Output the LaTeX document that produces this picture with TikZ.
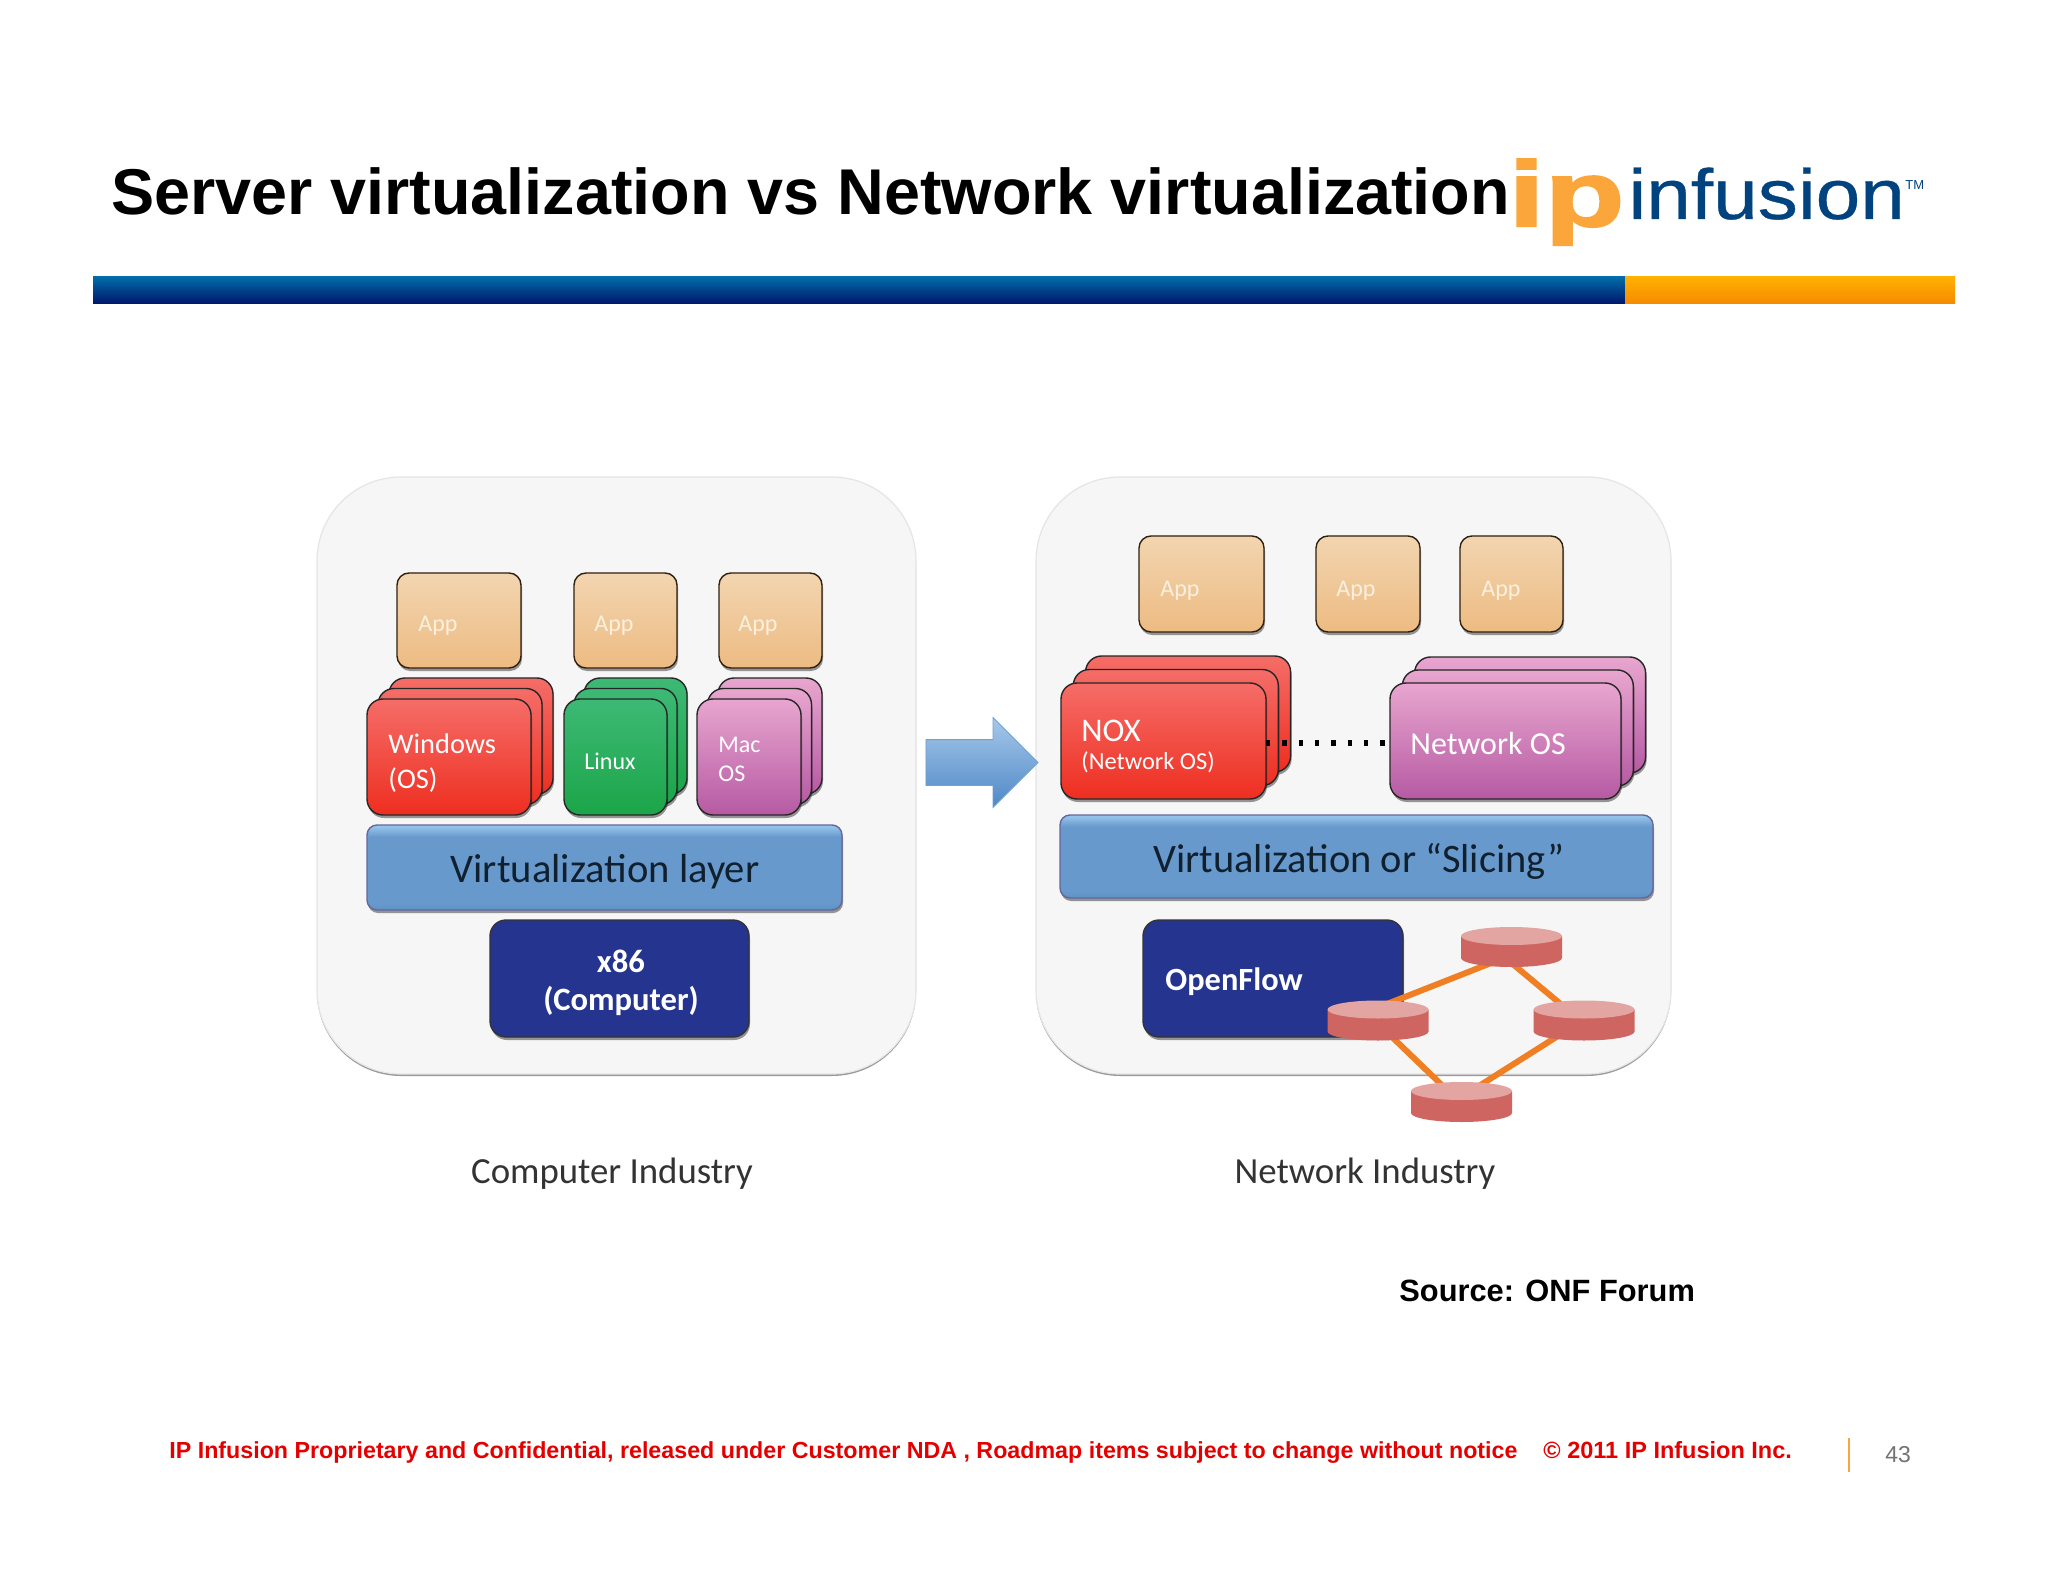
\documentclass[tikz,border=0pt]{standalone}
\usepackage{fontspec}
\setmainfont{Liberation Sans}
\newfontfamily\cbf{Carlito}
\newfontfamily\ipfont[FakeBold=2.5,FakeStretch=1.42]{Liberation Sans Bold}
\newfontfamily\inffont[FakeBold=0.5,FakeStretch=1.13]{Liberation Sans}
\usetikzlibrary{shadows,shapes.arrows,calc}
\pgfdeclarelayer{fg}
\pgfsetlayers{main,fg}
\definecolor{navybar}{HTML}{00156B}
\definecolor{edgeor}{HTML}{F07F24}
\definecolor{cCylB}{HTML}{CF6560}
\definecolor{cCylE}{HTML}{E3A5A2}
\definecolor{panelgray}{HTML}{F6F6F7}
\definecolor{navyfill}{HTML}{25358F}
\definecolor{cAppT}{HTML}{F2D5B0}
\definecolor{cAppB}{HTML}{EDBB82}
\definecolor{cRedT}{HTML}{F56D68}
\definecolor{cRedB}{HTML}{EE2E20}
\definecolor{cGrnT}{HTML}{3DB975}
\definecolor{cGrnB}{HTML}{1BA548}
\definecolor{cPurT}{HTML}{E8A6CF}
\definecolor{cPurB}{HTML}{B65AA3}
\definecolor{cBluT}{HTML}{93C3EA}
\definecolor{cBluB}{HTML}{5F93C6}
\definecolor{cBluM}{HTML}{6899CC}
\definecolor{logoor}{HTML}{FBA63A}
\definecolor{logobl}{HTML}{00437F}
\definecolor{barT}{HTML}{006CA8}
\definecolor{orT}{HTML}{FFB000}
\definecolor{orB}{HTML}{F58A00}
\definecolor{arrT}{HTML}{A6C8EA}
\definecolor{arrB}{HTML}{4F88C6}
\definecolor{appt}{HTML}{FBF0DF}
\definecolor{inkb}{HTML}{10202F}
\pgfdeclareverticalshading{bluesh}{100bp}{color(0bp)=(cBluB); color(26bp)=(cBluB); color(29bp)=(cBluM); color(68bp)=(cBluM); color(74bp)=(cBluT); color(100bp)=(cBluT)}
\tikzset{
  x=0.5pt,y=-0.5pt,
  panel/.style={rectangle,rounded corners=42pt,fill=panelgray,draw=black!10,line width=0.6pt,
    drop shadow={shadow xshift=0pt,shadow yshift=-1pt,opacity=.4,fill=black}},
  box/.style={rectangle,rounded corners=6pt,inner sep=0pt,outer sep=0pt,line width=0.7pt,
    drop shadow={shadow xshift=0.5pt,shadow yshift=-1.5pt,opacity=.4,fill=black}},
  osbox/.style={box,rounded corners=8pt,draw=black!85},
  appbox/.style={box,draw=black!75!brown,top color=cAppT,bottom color=cAppB},
  redbox/.style={osbox,top color=cRedT,bottom color=cRedB},
  greenbox/.style={osbox,top color=cGrnT,bottom color=cGrnB},
  purplebox/.style={osbox,top color=cPurT,bottom color=cPurB},
  bluebox/.style={box,rounded corners=5pt,draw=black!65!blue!60,shading=bluesh},
  navybox/.style={box,rounded corners=8pt,draw=black!80,fill=navyfill},
  lbl/.style={inner sep=0pt,anchor=west,align=left,text=white,font=\cbf},
  swbase/.style={rectangle,inner sep=0pt,outer sep=0pt,minimum width=50.5pt,minimum height=20pt},
  link/.style={draw=edgeor,line width=3pt},
}
\newcommand{\bx}[7]{%
  \pgfmathsetmacro\bxcx{(#3+#5)/2}\pgfmathsetmacro\bxcy{(#4+#6)/2}%
  \node[#2,minimum width={(#5-#3)*0.5pt},minimum height={(#6-#4)*0.5pt}] (#1) at (\bxcx,\bxcy) {#7};}
\newcommand{\stk}[8]{% name style x1 y1 x2 y2 dx dy
  \pgfmathsetmacro\sxa{#3+2*#7}\pgfmathsetmacro\sxb{#5+2*#7}\pgfmathsetmacro\sya{#4-2*#8}\pgfmathsetmacro\syb{#6-2*#8}%
  \bx{#1b}{#2}{\sxa}{\sya}{\sxb}{\syb}{}%
  \pgfmathsetmacro\sxa{#3+#7}\pgfmathsetmacro\sxb{#5+#7}\pgfmathsetmacro\sya{#4-#8}\pgfmathsetmacro\syb{#6-#8}%
  \bx{#1m}{#2}{\sxa}{\sya}{\sxb}{\syb}{}%
  \bx{#1}{#2}{#3}{#4}{#5}{#6}{}}
\newcommand{\sw}[3]{%
  \node[swbase] (#1) at (#2,#3) {};
  \fill[cCylB] ([shift={(-50.5,-11)}]#1.center) -- ([shift={(-50.5,11)}]#1.center)
     arc[start angle=180,end angle=360,x radius=25.25pt,y radius=4.5pt]
     -- ([shift={(50.5,-11)}]#1.center) -- cycle;
  \fill[cCylE] ([shift={(0,-11)}]#1.center) ellipse[x radius=25.25pt,y radius=4.5pt];}
\begin{document}
\begin{tikzpicture}
\useasboundingbox (0,0) rectangle (2048,1582);
\fill[white] (0,0) rectangle (2048,1582);
% title
\node[anchor=base west,inner sep=0pt,font=\fontsize{32.35}{36}\selectfont\bfseries] (title) at (111,215) {Server virtualization vs Network virtualization};
% logo
\node[anchor=base west,inner sep=0pt,text=logoor,font=\fontsize{46}{50}\selectfont\ipfont] (logoip) at (1508,226) {ip};
\node[anchor=base west,inner sep=0pt,text=logobl,font=\fontsize{35.5}{40}\selectfont\inffont] (logoinf) at (1628,219) {infusion};
\node[anchor=base west,inner sep=0pt,text=logobl,font=\fontsize{6.5}{8}\selectfont] (logotm) at (1905,190) {TM};
% bar
\bx{barb}{rectangle,inner sep=0pt,top color=barT,bottom color=navybar}{93}{277}{1625}{304}{}
\bx{baro}{rectangle,inner sep=0pt,top color=orT,bottom color=orB}{1625}{277}{1955}{304}{}
% panels
\bx{pl}{panel}{317}{477}{916}{1074}{}
\bx{pr}{panel}{1036}{477}{1671}{1074}{}
% left apps
\bx{la1}{appbox}{397}{573}{521}{668}{}
\bx{la2}{appbox}{574}{573}{677}{668}{}
\bx{la3}{appbox}{719}{573}{822}{668}{}
\node[lbl,text=appt,font=\cbf\fontsize{12}{14}\selectfont] (tla1) at (418,625.5) {App};
\node[lbl,text=appt,font=\cbf\fontsize{12}{14}\selectfont] (tla2) at (594,625.5) {App};
\node[lbl,text=appt,font=\cbf\fontsize{12}{14}\selectfont] (tla3) at (738,625.5) {App};
% left OS stacks
\stk{win}{redbox}{367}{699}{531}{815}{11}{10.5}
\stk{lin}{greenbox}{564}{699}{667}{815}{10}{10.5}
\stk{mac}{purplebox}{697}{699}{801}{815}{10.5}{10.5}
\node[lbl,font=\cbf\fontsize{14.2}{17.5}\selectfont] (twin) at (388,763.5) {Windows\\(OS)};
\node[lbl,font=\cbf\fontsize{12}{14}\selectfont] (tlin) at (584,761) {Linux};
\node[lbl,font=\cbf\fontsize{12}{14.5}\selectfont] (tmac) at (718,759) {Mac\\OS};
% left layers
\bx{vl}{bluebox}{367}{825}{842}{910}{}
\node[inner sep=0pt,text=inkb,font=\cbf\fontsize{20.3}{22}\selectfont] (tvl) at (605,871.5) {Virtualization layer};
\bx{x86}{navybox}{490}{920}{749}{1037}{}
\node[inner sep=0pt,text=white,align=center,font=\cbf\bfseries\fontsize{16.3}{19}\selectfont] (tx86) at (621,982.5) {x86\\(Computer)};
% right apps
\bx{ra1}{appbox}{1139}{536}{1264}{632}{}
\bx{ra2}{appbox}{1316}{536}{1420}{632}{}
\bx{ra3}{appbox}{1460}{536}{1563}{632}{}
\node[lbl,text=appt,font=\cbf\fontsize{12}{14}\selectfont] (tra1) at (1160,590.5) {App};
\node[lbl,text=appt,font=\cbf\fontsize{12}{14}\selectfont] (tra2) at (1336,590.5) {App};
\node[lbl,text=appt,font=\cbf\fontsize{12}{14}\selectfont] (tra3) at (1481,590.5) {App};
% right OS stacks
\stk{nox}{redbox}{1061}{683}{1266}{799}{12.3}{13.5}
\stk{nos}{purplebox}{1390}{683}{1621}{799}{12.3}{13}
\draw[black,line width=2.6pt,dash pattern=on 2.2pt off 5.95pt] ([shift={(0,2)}]nox.east) -- ([shift={(0,2)}]nos.west);
\node[lbl,font=\cbf\fontsize{16.5}{18}\selectfont] (tnox) at (1081,731) {NOX};
\node[lbl,font=\cbf\fontsize{12.2}{14}\selectfont] (tnoxb) at (1081,762) {(Network OS)};
\node[lbl,font=\cbf\fontsize{16}{18}\selectfont] (tnos) at (1410,744) {Network OS};
% right layers
\bx{vr}{bluebox}{1060}{815}{1653}{898}{}
\node[inner sep=0pt,text=inkb,font=\cbf\fontsize{20.2}{22}\selectfont] (tvr) at (1359,861.5) {Virtualization or “Slicing”};
\bx{of}{navybox}{1143}{920}{1403}{1037}{}
\node[lbl,font=\cbf\bfseries\fontsize{16.2}{18}\selectfont] (tof) at (1165,982) {OpenFlow};
% switches
\begin{pgfonlayer}{fg}
\sw{st}{1511.5}{947}
\sw{sl}{1378}{1020.5}
\sw{sr}{1584}{1020.5}
\sw{sb}{1461.5}{1102}
\end{pgfonlayer}
\draw[link] ([shift={(0,-13)}]sl.center) -- ([shift={(0,8)}]st.center);
\draw[link] ([shift={(0,16)}]st.center) -- ([shift={(0,3)}]sr.center);
\draw[link] ([shift={(0,-1)}]sr.center) -- ([shift={(0,-5)}]sb.center);
\draw[link] ([shift={(0,3)}]sl.center) -- ([shift={(0,2)}]sb.center);
% big arrow
\node[single arrow,minimum height=56pt,single arrow head extend=11pt,inner xsep=0pt,inner ysep=11.25pt,
  top color=arrT,bottom color=arrB,draw=arrB!80,line width=0.4pt] (arr) at (970.5,762.5) {};
% captions
\node[inner sep=0pt,text=black!80,font=\cbf\fontsize{18.4}{20}\selectfont] (cc) at (612,1174) {Computer Industry};
\node[inner sep=0pt,text=black!80,font=\cbf\fontsize{18.4}{20}\selectfont] (cn) at (1365,1174) {Network Industry};
\node[anchor=base west,inner sep=0pt,font=\fontsize{15.4}{18}\selectfont\bfseries] (src) at (1399,1301) {Source: ONF Forum};
% footer
\node[anchor=base west,inner sep=0pt,text=red!90!black,font=\fontsize{11.62}{14}\selectfont\bfseries] (f1) at (169,1458.5) {IP Infusion Proprietary and Confidential, released under Customer NDA , Roadmap items subject to change without notice};
\node[anchor=base west,inner sep=0pt,text=red!90!black,font=\fontsize{11.75}{14}\selectfont\bfseries] (f2) at (1543,1458.5) {© 2011 IP Infusion Inc.};
\coordinate (pa) at (1848.5,1438);
\coordinate (pb) at (1848.5,1472);
\draw[logoor,line width=1pt] (pa) -- (pb);
\node[anchor=base west,inner sep=0pt,text=black!55,font=\fontsize{11.5}{14}\selectfont] (pg) at (1885,1462) {43};
\end{tikzpicture}
\end{document}
